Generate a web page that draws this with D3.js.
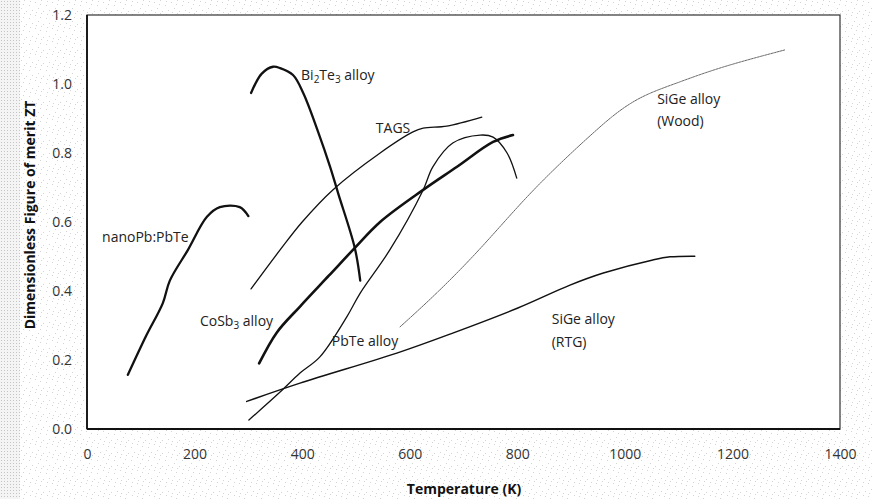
<!DOCTYPE html>
<html><head><meta charset="utf-8">
<script src="https://cdn.jsdelivr.net/npm/d3@7"></script>
<style>html,body{margin:0;padding:0;background:#fff;}svg{display:block;}</style>
</head><body>
<script>
// ---- data (Temperature K, ZT) ----
const xTicks = [0, 200, 400, 600, 800, 1000, 1200, 1400];
const yTicks = [0.0, 0.2, 0.4, 0.6, 0.8, 1.0, 1.2];

const nanoPbT  = [76, 110, 141, 154, 188, 223, 247, 284, 300];
const nanoPbZT = [0.157, 0.27, 0.365, 0.43, 0.52, 0.615, 0.643, 0.643, 0.617];

const bi2te3T  = [305, 325, 346, 359, 383, 402, 430, 452, 467, 498, 508];
const bi2te3ZT = [0.974, 1.03, 1.05, 1.046, 1.026, 0.974, 0.86, 0.76, 0.683, 0.524, 0.43];

const cosb3T  = [320, 353, 396, 450, 498, 545, 625, 688, 755, 792];
const cosb3ZT = [0.19, 0.28, 0.355, 0.445, 0.525, 0.6, 0.693, 0.76, 0.832, 0.852];

const tagsT  = [305, 359, 400, 457, 545, 606, 625, 669, 734];
const tagsZT = [0.406, 0.519, 0.6, 0.693, 0.8, 0.861, 0.872, 0.878, 0.904];

const pbteT  = [301, 359, 396, 433, 483, 508, 563, 625, 643, 680, 731, 755, 781, 799];
const pbteZT = [0.026, 0.107, 0.162, 0.209, 0.325, 0.394, 0.519, 0.693, 0.76, 0.829, 0.852, 0.846, 0.8, 0.727];

const sigeWoodT  = [582, 650, 731, 820, 900, 941, 975, 1010, 1047, 1097, 1177, 1298];
const sigeWoodZT = [0.296, 0.392, 0.52, 0.68, 0.80, 0.858, 0.905, 0.945, 0.975, 1.003, 1.049, 1.099];

const sigeRtgT  = [297, 396, 576, 680, 800, 898, 960, 1052, 1084, 1130];
const sigeRtgZT = [0.08, 0.133, 0.22, 0.278, 0.35, 0.417, 0.452, 0.49, 0.499, 0.501];

const series = [
  {name:"nanoPb", T:nanoPbT, Z:nanoPbZT, w:2.3, c:"#111", dash:null, basis:false},
  {name:"Bi2Te3", T:bi2te3T, Z:bi2te3ZT, w:2.3, c:"#111", dash:null, basis:false},
  {name:"CoSb3", T:cosb3T, Z:cosb3ZT, w:2.6, c:"#111", dash:null, basis:false},
  {name:"TAGS", T:tagsT, Z:tagsZT, w:1.3, c:"#111", dash:null, basis:false},
  {name:"PbTe", T:pbteT, Z:pbteZT, w:1.3, c:"#111", dash:null, basis:false},
  {name:"SiGeWood", T:sigeWoodT, Z:sigeWoodZT, w:0.9, c:"#555", dash:"2,1", basis:true},
  {name:"SiGeRTG", T:sigeRtgT, Z:sigeRtgZT, w:1.5, c:"#111", dash:null, basis:false}
];

// labels: parts [string, isSub], anchored at (T, ZT) = left baseline
const labels = [
  {parts:[["nanoPb:PbTe",0]], T:28, Z:0.543},
  {parts:[["Bi",0],["2",1],["Te",0],["3",1],[" alloy",0]], T:398, Z:1.013},
  {parts:[["TAGS",0]], T:537, Z:0.859},
  {parts:[["CoSb",0],["3",1],[" alloy",0]], T:210, Z:0.30},
  {parts:[["PbTe alloy",0]], T:455, Z:0.242},
  {parts:[["SiGe alloy",0]], T:864, Z:0.303},
  {parts:[["(RTG)",0]], T:864, Z:0.239},
  {parts:[["SiGe alloy",0]], T:1060, Z:0.941},
  {parts:[["(Wood)",0]], T:1060, Z:0.877}
];

// ---- layout ----
const W = 872, H = 499;
const m = {l:87, r:32, t:15, b:70};
const svg = d3.select("body").append("svg").attr("width", W).attr("height", H);

// scanned grainy background (sparse irregular dots)
const defs = svg.append("defs");
const pat = defs.append("pattern").attr("id","grain").attr("width",17).attr("height",13).attr("patternUnits","userSpaceOnUse");
pat.append("rect").attr("width",17).attr("height",13).attr("fill","#fff");
[[1,2],[7,0],[12,5],[4,8],[15,10],[9,11],[2,12],[13,1],[6,4]].forEach(p =>
  pat.append("rect").attr("x",p[0]).attr("y",p[1]).attr("width",1).attr("height",1).attr("fill","#d4d4d4"));
const pat2 = defs.append("pattern").attr("id","grain2").attr("width",3).attr("height",3).attr("patternUnits","userSpaceOnUse");
pat2.append("rect").attr("width",3).attr("height",3).attr("fill","#f4f4f4");
pat2.append("rect").attr("x",1).attr("y",1).attr("width",1).attr("height",1).attr("fill","#c4c4c4");
svg.append("rect").attr("width",W).attr("height",H).attr("fill","url(#grain)");
svg.append("rect").attr("width",20).attr("height",H).attr("fill","url(#grain2)");

const x = d3.scaleLinear().domain([0,1400]).range([m.l, W - m.r]);
const y = d3.scaleLinear().domain([0,1.2]).range([H - m.b, m.t]);

svg.append("rect").attr("x", x(0)).attr("y", y(1.2))
  .attr("width", x(1400)-x(0)).attr("height", y(0)-y(1.2))
  .attr("fill","#fff");

const font = "'Open Sans', 'Noto Sans', sans-serif";

// axes (labels only, no tick marks)
const xAxis = svg.append("g").attr("transform", `translate(0,${y(0)})`)
  .call(d3.axisBottom(x).tickValues(xTicks).tickSize(0).tickPadding(20).tickFormat(d3.format("d")));
const yAxis = svg.append("g").attr("transform", `translate(${x(0)},0)`)
  .call(d3.axisLeft(y).tickValues(yTicks).tickSize(0).tickPadding(15).tickFormat(d3.format(".1f")));
[xAxis, yAxis].forEach(g => {
  g.select(".domain").remove();
  g.selectAll("text").attr("font-family", font).attr("font-size", 14).attr("fill", "#333");
});

// frame
svg.append("rect").attr("x", x(0)).attr("y", y(1.2))
  .attr("width", x(1400)-x(0)).attr("height", y(0)-y(1.2))
  .attr("fill","none").attr("stroke","#333").attr("stroke-width",1.2);
svg.append("line").attr("x1",x(0)).attr("x2",x(0)).attr("y1",y(1.2)).attr("y2",y(0)).attr("stroke","#111").attr("stroke-width",1.8);
svg.append("line").attr("x1",x(0)).attr("x2",x(1400)).attr("y1",y(0)).attr("y2",y(0)).attr("stroke","#111").attr("stroke-width",1.8);

// curves
const lineC = d3.line().x(d => x(d[0])).y(d => y(d[1])).curve(d3.curveCatmullRom.alpha(0.5));
const lineB = d3.line().x(d => x(d[0])).y(d => y(d[1])).curve(d3.curveBasis);
series.forEach(s => {
  const pts = s.T.map((t,i) => [t, s.Z[i]]);
  svg.append("path").attr("d", (s.basis ? lineB : lineC)(pts)).attr("fill","none")
    .attr("stroke", s.c).attr("stroke-width", s.w)
    .attr("stroke-dasharray", s.dash).attr("stroke-linejoin","round").attr("stroke-linecap","round");
});

// labels
labels.forEach(L => {
  const t = svg.append("text").attr("x", x(L.T)).attr("y", y(L.Z))
    .attr("font-family", font).attr("font-size", 14).attr("fill", "#222");
  let prevSub = false;
  L.parts.forEach((p, i) => {
    const ts = t.append("tspan").text(p[0]);
    if (p[1]) { ts.attr("font-size", 10).attr("dy", 3); prevSub = true; }
    else if (prevSub) { ts.attr("dy", -3); prevSub = false; }
  });
});

// axis titles
svg.append("text").attr("x", 464).attr("y", 494).attr("text-anchor","middle")
  .attr("font-family", font).attr("font-weight","bold").attr("font-size", 14).attr("fill","#111")
  .text("Temperature (K)");
svg.append("text").attr("transform", `translate(35,${(y(0)+y(1.2))/2 - 7}) rotate(-90)`)
  .attr("text-anchor","middle")
  .attr("font-family", font).attr("font-weight","bold").attr("font-size", 14).attr("fill","#111")
  .text("Dimensionless Figure of merit ZT");
</script>
</body></html>
